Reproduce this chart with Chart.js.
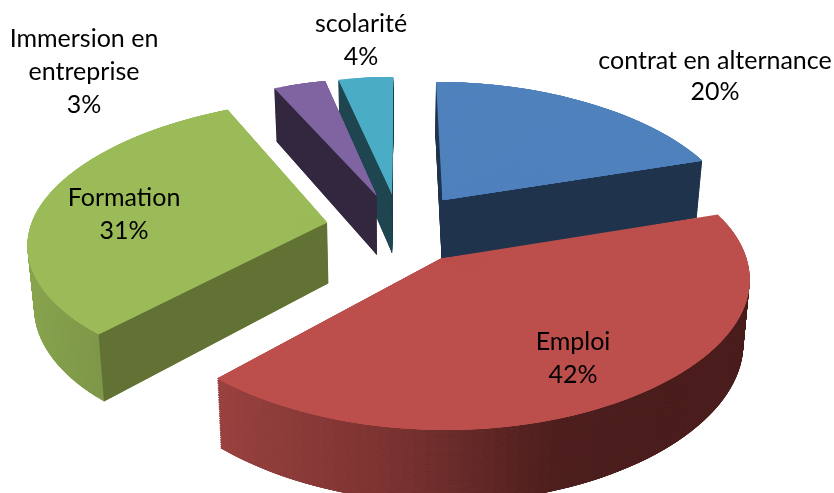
<!DOCTYPE html>
<html><head><meta charset="utf-8">
<style>html,body{margin:0;padding:0;background:#fff}canvas{display:block}</style>
<script src="https://cdn.jsdelivr.net/npm/chart.js@4"></script>
</head><body><canvas id="c" width="834" height="493"></canvas>
<script>
const categories = ["contrat en alternance","Emploi","Formation","Immersion en entreprise","scolarité"];
const values = [20,42,31,3.4,3.6];
const topColors = ["#4F81BD","#BC4F4C","#9BBB59","#8064A2","#4BACC6"];
const cutColors = ["#1F334C","#4A1E1D","#617234","#33273F","#1E4550"];
const labelLines = [["contrat en alternance","20%"],["Emploi","42%"],["Formation","31%"],["Immersion en","entreprise","3%"],["scolarité","4%"]];

// Layout only: perspective camera of the tilted pie and label anchors
const view = {x0:400, horizon:-853, dist:1081, k:0.13, kx:0.14, kxx:0.03, rx:297, explode:0.25, depth:61, taper:0.018};
const labelAnchors = [[715,61,31],[573,342,33],[124,198,33],[84,39,33],[361,24,33]];
const paintOrder = [0,4,3,2,1];
const wallRamps = {
  1:[[217,[154,67,65]],[400,[122,51,49]],[560,[77,31,30]],[760,[74,30,29]]],
  2:[[27,[138,166,79]],[103,[125,151,73]]]
};
const project = (X,Y,z)=>{
  const w = 1+view.k*Y;
  const wx = 1+view.kx*Y+view.kxx*Y*Y;
  const x = view.rx*X/wx*(1-view.taper*z);
  return {x:view.x0+x, y:view.horizon+view.dist/w+z*view.depth/w};
};
const ramp = (i,x,fallback)=>{
  const r = wallRamps[i]; if(!r) return fallback;
  if(x<=r[0][0]) return `rgb(${r[0][1]})`;
  for(let n=1;n<r.length;n++){ if(x<=r[n][0]){
    const t=(x-r[n-1][0])/(r[n][0]-r[n-1][0]);
    return `rgb(${r[n][1].map((v,j)=>Math.round(r[n-1][1][j]+(v-r[n-1][1][j])*t))})`;
  }}
  return `rgb(${r[r.length-1][1]})`;
};
function drawSub(ctx,el,a0,a1,apex,z,color){
  const p=project(apex.X,apex.Y,z);
  const pa=project(apex.X+Math.cos(a0),apex.Y-Math.sin(a0),z);
  const pb=project(apex.X+Math.cos(a1),apex.Y-Math.sin(a1),z);
  const R=el.outerRadius;
  const ux=R*Math.cos(a0),uy=R*Math.sin(a0),vx=R*Math.cos(a1),vy=R*Math.sin(a1);
  const det=ux*vy-uy*vx;
  const Ax=pa.x-p.x,Ay=pa.y-p.y,Bx=pb.x-p.x,By=pb.y-p.y;
  const a=(Ax*vy-Bx*uy)/det,c=(-Ax*vx+Bx*ux)/det,b=(Ay*vy-By*uy)/det,d=(-Ay*vx+By*ux)/det;
  ctx.setTransform(a,b,c,d,p.x-a*el.x-c*el.y,p.y-b*el.x-d*el.y);
  el.startAngle=a0; el.endAngle=a1; el.circumference=a1-a0;
  const o=el.options; el.options=Object.assign({},o,{backgroundColor:color,borderWidth:0});
  el.draw(ctx);
  el.options=o;
}
const pie3d = {
  id:'pie3d',
  beforeDatasetsDraw(chart){
    const ctx=chart.ctx, arcs=chart.getDatasetMeta(0).data;
    ctx.save();
    for(const i of paintOrder){
      const el=arcs[i];
      const s=el.startAngle,e=el.endAngle,c=el.circumference,mid=(s+e)/2;
      const apex={X:view.explode*Math.cos(mid),Y:-view.explode*Math.sin(mid)};
      const corner=(a,z)=>project(apex.X+Math.cos(a),apex.Y-Math.sin(a),z);
      const step=Math.PI/90, n=Math.max(1,Math.ceil((e-s)/step)), d=(e-s)/n;
      const subs=[];
      for(let j=0;j<n;j++){
        const a0=s+j*d, a1=Math.min(e,s+(j+4)*d);
        subs.push([a0,a1,a0+d/2]);
      }
      // outer wall: stacked copies of the arc
      for(let l=40;l>=1;l--){
        const z=l/40;
        for(const [a0,a1,am] of subs){
          drawSub(ctx,el,a0,a1,apex,z,ramp(i,corner(am,z).x,cutColors[i]));
        }
      }
      // flat cut faces, only those turned toward the viewer
      ctx.setTransform(1,0,0,1,0,0);
      const P0=project(apex.X,apex.Y,0), M0=corner(mid,0);
      for(const a of [s,e]){
        const Q=corner(a,0);
        const ex=Q.x-P0.x, ey=Q.y-P0.y;
        const down=ex;                                   // edge x (0,1)
        const inside=ex*(M0.y-P0.y)-ey*(M0.x-P0.x);      // edge x interior
        if(down*inside>=0) continue;
        const pts=[P0,Q,corner(a,1),project(apex.X,apex.Y,1)];
        ctx.beginPath(); pts.forEach((q,m)=>m?ctx.lineTo(q.x,q.y):ctx.moveTo(q.x,q.y)); ctx.closePath();
        ctx.fillStyle=cutColors[i]; ctx.fill();
      }
      // top face
      for(const [a0,a1] of subs) drawSub(ctx,el,a0,a1,apex,0,topColors[i]);
      el.startAngle=s; el.endAngle=e; el.circumference=c;
    }
    ctx.setTransform(1,0,0,1,0,0);
    ctx.restore();
    return false;
  },
  afterDraw(chart){
    const ctx=chart.ctx;
    ctx.save();
    ctx.font='25px Lato, "Open Sans", sans-serif';
    ctx.fillStyle='#000'; ctx.textAlign='center'; ctx.textBaseline='middle';
    labelLines.forEach((lines,i)=>{
      const [x,y,lh]=labelAnchors[i];
      lines.forEach((t,j)=>ctx.fillText(t,x,y+j*lh));
    });
    ctx.restore();
  }
};
new Chart(document.getElementById('c'),{
  type:'pie',
  data:{labels:categories,datasets:[{data:values,backgroundColor:topColors,borderWidth:0}]},
  options:{responsive:false,animation:false,events:[],devicePixelRatio:1,
    plugins:{legend:{display:false},tooltip:{enabled:false}}},
  plugins:[pie3d]
});
</script></body></html>
